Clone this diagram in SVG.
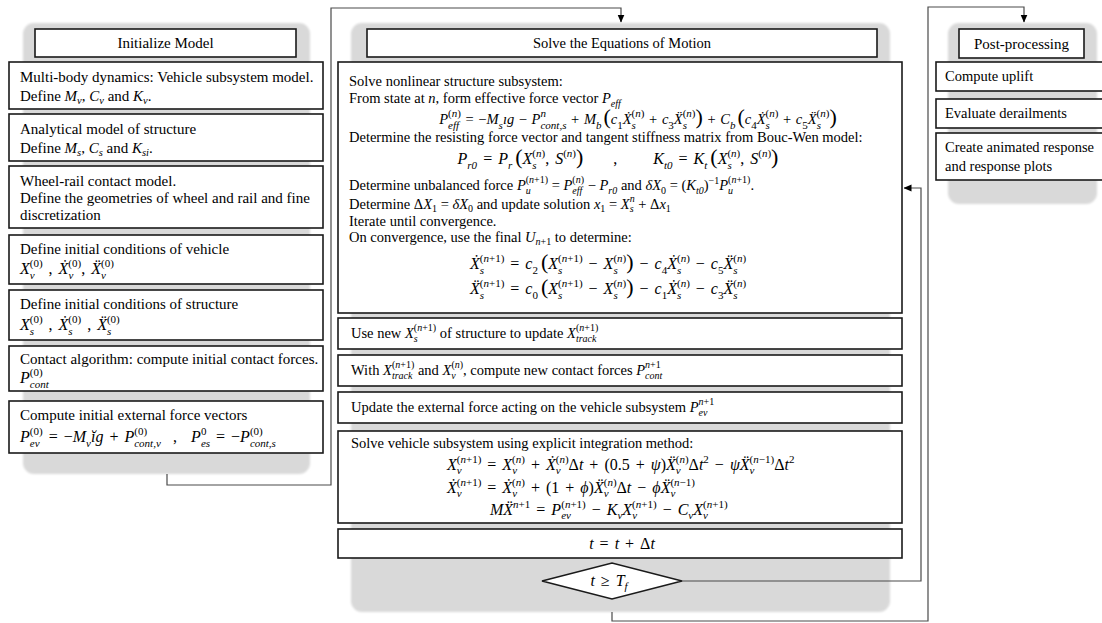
<svg xmlns="http://www.w3.org/2000/svg" width="1102" height="623" viewBox="0 0 1102 623">
<style>
.t{font-family:"Liberation Serif","Times New Roman",serif;font-size:14.5px;fill:#000}
.L{font-size:15px}
.R{font-size:14.5px}
.i{font-style:italic}
.sm{font-size:10px}
.L .sm{font-size:10.5px}
.eq{font-size:16px;word-spacing:2px}
.eq .sm{font-size:11px}
.bp{font-size:22px}
.box{fill:#fff;stroke:#1a1a1a;stroke-width:1.6}
.panel{fill:#d9d9d9}
.conn{fill:none;stroke:#4a4a4a;stroke-width:1.2}
</style>
<defs>
<filter id="soft" x="-5%" y="-5%" width="110%" height="110%"><feGaussianBlur stdDeviation="1.2"/></filter>
<marker id="ah" markerWidth="8" markerHeight="8" refX="7.5" refY="4" orient="auto" markerUnits="userSpaceOnUse"><path d="M0,0.5 L8,4 L0,7.5 z" fill="#000"/></marker>
</defs>

<g id="panels">
<rect class="panel" x="23" y="23" width="287" height="451" rx="11" filter="url(#soft)"/>
<rect class="panel" x="351" y="23" width="539" height="589" rx="11" filter="url(#soft)"/>
<rect class="panel" x="948" y="23" width="149" height="181" rx="11" filter="url(#soft)"/>
</g>

<g id="connectors">
<path class="conn" d="M167,474 V485 H331 V8 H621 V22" marker-end="url(#ah)"/>
<path class="conn" d="M682,581 H921 V188 H904" marker-end="url(#ah)"/>
<path class="conn" d="M612,612 V621 H928 V7 H1024 V22" marker-end="url(#ah)"/>
</g>

<!-- Left column -->
<g id="init-title">
<rect class="box" x="35" y="29" width="261" height="28"/>
<text class="t L" x="165.5" y="48" text-anchor="middle">Initialize Model</text>
</g>
<g id="init-mbd">
<rect class="box" x="9" y="62" width="314" height="47"/>
<text class="t L" x="20" y="82">Multi-body dynamics:  Vehicle subsystem model.</text>
<text class="t L" x="20" y="101">Define <tspan class="i">M</tspan><tspan class="sm i" dy="3">v</tspan><tspan dy="-3">, </tspan><tspan class="i">C</tspan><tspan class="sm i" dy="3">v</tspan><tspan dy="-3"> and </tspan><tspan class="i">K</tspan><tspan class="sm i" dy="3">v</tspan><tspan dy="-3">.</tspan></text>
</g>
<g id="init-struct">
<rect class="box" x="9" y="114" width="314" height="47"/>
<text class="t L" x="20" y="134">Analytical  model of structure</text>
<text class="t L" x="20" y="153">Define <tspan class="i">M</tspan><tspan class="sm i" dy="3">s</tspan><tspan dy="-3">, </tspan><tspan class="i">C</tspan><tspan class="sm i" dy="3">s</tspan><tspan dy="-3"> and </tspan><tspan class="i">K</tspan><tspan class="sm i" dy="3">si</tspan><tspan dy="-3">.</tspan></text>
</g>
<g id="init-contact-model">
<rect class="box" x="9" y="166" width="314" height="62"/>
<text class="t L" x="20" y="186">Wheel-rail contact model.</text>
<text class="t L" x="20" y="203">Define the geometries of wheel and rail and fine</text>
<text class="t L" x="20" y="220">discretization</text>
</g>
<g id="init-vehicle">
<rect class="box" x="9" y="235" width="314" height="49"/>
<text class="t L" x="20" y="254">Define initial conditions of vehicle</text>
<text class="t eq" x="20" y="274"><tspan class="i">X</tspan><tspan class="sm i" dy="4.5">v</tspan><tspan class="sm" dx="-4.9" dy="-12">(0)</tspan><tspan dy="7.5"> , </tspan><tspan class="i">Ẋ</tspan><tspan class="sm i" dy="4.5">v</tspan><tspan class="sm" dx="-4.9" dy="-12">(0)</tspan><tspan dy="7.5">,  </tspan><tspan class="i">Ẍ</tspan><tspan class="sm i" dy="4.5">v</tspan><tspan class="sm" dx="-4.9" dy="-12">(0)</tspan></text>
</g>
<g id="init-structure-ic">
<rect class="box" x="9" y="290" width="314" height="50"/>
<text class="t L" x="20" y="309">Define initial conditions of structure</text>
<text class="t eq" x="20" y="330"><tspan class="i">X</tspan><tspan class="sm i" dy="4.5">s</tspan><tspan class="sm" dx="-4.3" dy="-12">(0)</tspan><tspan dy="7.5"> , </tspan><tspan class="i">Ẋ</tspan><tspan class="sm i" dy="4.5">s</tspan><tspan class="sm" dx="-4.3" dy="-12">(0)</tspan><tspan dy="7.5"> , </tspan><tspan class="i">Ẍ</tspan><tspan class="sm i" dy="4.5">s</tspan><tspan class="sm" dx="-4.3" dy="-12">(0)</tspan></text>
</g>
<g id="init-contact-alg">
<rect class="box" x="9" y="346" width="314" height="45"/>
<text class="t L" x="20" y="364">Contact algorithm: compute initial contact forces.</text>
<text class="t eq" x="20" y="383"><tspan class="i">P</tspan><tspan class="sm i" dy="4.5">cont</tspan><tspan class="sm" dx="-18.9" dy="-12">(0)</tspan></text>
</g>
<g id="init-forces">
<rect class="box" x="9" y="401" width="314" height="52"/>
<text class="t L" x="20" y="420">Compute initial external  force vectors</text>
<text class="t eq" x="20" y="442"><tspan class="i">P</tspan><tspan class="sm i" dy="4.5">ev</tspan><tspan class="sm" dx="-9.7" dy="-12">(0)</tspan><tspan dy="7.5"> = −</tspan><tspan class="i">M</tspan><tspan class="sm i" dy="4.5">v</tspan><tspan class="i" dy="-4.5">ĭg</tspan><tspan> + </tspan><tspan class="i">P</tspan><tspan class="sm i" dy="4.5">cont,v</tspan><tspan class="sm" dx="-26.5" dy="-12">(0)</tspan><tspan dy="7.5" dx="26">,</tspan><tspan class="i" dx="14">P</tspan><tspan class="sm i" dy="4.5">es</tspan><tspan class="sm" dx="-9.1" dy="-12">0</tspan><tspan dy="7.5" dx="3.6"> = −</tspan><tspan class="i">P</tspan><tspan class="sm i" dy="4.5">cont,s</tspan><tspan class="sm" dx="-26" dy="-12">(0)</tspan></text>
</g>

<!-- Middle column -->
<g id="solve-title">
<rect class="box" x="367" y="29" width="510" height="28"/>
<text class="t" x="622" y="48" text-anchor="middle">Solve the Equations of Motion</text>
</g>
<g id="solve-structure">
<rect class="box" x="338" y="62" width="564" height="251"/>
<text class="t" x="349" y="86">Solve nonlinear structure subsystem:</text>
<text class="t" x="349" y="103">From state at <tspan class="i">n</tspan>, form effective  force vector <tspan class="i">P</tspan><tspan class="sm i" dy="4">eff</tspan></text>
<text class="t eq" x="638" y="124" text-anchor="middle" style="font-size:14.5px;word-spacing:1px"><tspan class="i">P</tspan><tspan class="sm i" dy="4.5">eff</tspan><tspan class="sm" dx="-11" dy="-12">(<tspan class="i">n</tspan>)</tspan><tspan dy="7.5"> = −</tspan><tspan class="i">M</tspan><tspan class="sm i" dy="4.5">s</tspan><tspan class="i" dy="-4.5">ıg</tspan><tspan> − </tspan><tspan class="i">P</tspan><tspan class="sm i" dy="4.5">cont,s</tspan><tspan class="sm i" dx="-26" dy="-12">n</tspan><tspan dy="7.5" dx="20.5"> + </tspan><tspan class="i">M</tspan><tspan class="sm i" dy="4.5">b</tspan><tspan class="bp" dy="-4.5" dx="2">(</tspan><tspan class="i">c</tspan><tspan class="sm" dy="4.5">1</tspan><tspan class="i" dy="-4.5">Ẋ</tspan><tspan class="sm i" dy="4.5">s</tspan><tspan class="sm" dx="-4.3" dy="-12">(<tspan class="i">n</tspan>)</tspan><tspan dy="7.5"> + </tspan><tspan class="i">c</tspan><tspan class="sm" dy="4.5">3</tspan><tspan class="i" dy="-4.5">Ẍ</tspan><tspan class="sm i" dy="4.5">s</tspan><tspan class="sm" dx="-4.3" dy="-12">(<tspan class="i">n</tspan>)</tspan><tspan class="bp" dy="7.5">)</tspan><tspan> + </tspan><tspan class="i">C</tspan><tspan class="sm i" dy="4.5">b</tspan><tspan class="bp" dy="-4.5" dx="2">(</tspan><tspan class="i">c</tspan><tspan class="sm" dy="4.5">4</tspan><tspan class="i" dy="-4.5">Ẋ</tspan><tspan class="sm i" dy="4.5">s</tspan><tspan class="sm" dx="-4.3" dy="-12">(<tspan class="i">n</tspan>)</tspan><tspan dy="7.5"> + </tspan><tspan class="i">c</tspan><tspan class="sm" dy="4.5">5</tspan><tspan class="i" dy="-4.5">Ẍ</tspan><tspan class="sm i" dy="4.5">s</tspan><tspan class="sm" dx="-4.3" dy="-12">(<tspan class="i">n</tspan>)</tspan><tspan class="bp" dy="7.5">)</tspan></text>
<text class="t" x="349" y="142">Determine the resisting force vector and tangent stiffness matrix from Bouc-Wen model:</text>
<text class="t eq" x="618" y="164" text-anchor="middle"><tspan class="i">P</tspan><tspan class="sm i" dy="4.5">r0</tspan><tspan dy="-4.5"> = </tspan><tspan class="i">P</tspan><tspan class="sm i" dy="4.5">r</tspan><tspan class="bp" dy="-4.5" dx="3">(</tspan><tspan class="i">X</tspan><tspan class="sm i" dy="4.5">s</tspan><tspan class="sm" dx="-4.3" dy="-12">(<tspan class="i">n</tspan>)</tspan><tspan dy="7.5">, </tspan><tspan class="i">S</tspan><tspan class="sm" dy="-7">(<tspan class="i">n</tspan>)</tspan><tspan class="bp" dy="7">)</tspan><tspan dx="30">,</tspan><tspan class="i" dx="36">K</tspan><tspan class="sm i" dy="4.5">t0</tspan><tspan dy="-4.5"> = </tspan><tspan class="i">K</tspan><tspan class="sm i" dy="4.5">t</tspan><tspan class="bp" dy="-4.5" dx="3">(</tspan><tspan class="i">X</tspan><tspan class="sm i" dy="4.5">s</tspan><tspan class="sm" dx="-4.3" dy="-12">(<tspan class="i">n</tspan>)</tspan><tspan dy="7.5">, </tspan><tspan class="i">S</tspan><tspan class="sm" dy="-7">(<tspan class="i">n</tspan>)</tspan><tspan class="bp" dy="7">)</tspan></text>
<text class="t" x="349" y="190">Determine unbalanced  force <tspan class="i">P</tspan><tspan class="sm i" dy="4">u</tspan><tspan class="sm" dx="-5" dy="-11">(<tspan class="i">n</tspan>+1)</tspan><tspan dy="7"> = </tspan><tspan class="i">P</tspan><tspan class="sm i" dy="4">eff</tspan><tspan class="sm" dx="-10" dy="-11">(<tspan class="i">n</tspan>)</tspan><tspan dy="7"> − </tspan><tspan class="i">P</tspan><tspan class="sm i" dy="4">r0</tspan><tspan dy="-4"> and </tspan><tspan class="i">δX</tspan><tspan class="sm" dy="4">0</tspan><tspan dy="-4"> = (</tspan><tspan class="i">K</tspan><tspan class="sm i" dy="4">t0</tspan><tspan dy="-4">)</tspan><tspan class="sm" dy="-6">−1</tspan><tspan class="i" dy="6">P</tspan><tspan class="sm i" dy="4">u</tspan><tspan class="sm" dx="-5" dy="-11">(<tspan class="i">n</tspan>+1)</tspan><tspan dy="7">.</tspan></text>
<text class="t" x="349" y="209">Determine Δ<tspan class="i">X</tspan><tspan class="sm" dy="3">1</tspan><tspan dy="-3"> = </tspan><tspan class="i">δX</tspan><tspan class="sm" dy="3">0</tspan><tspan dy="-3"> and update solution </tspan><tspan class="i">x</tspan><tspan class="sm" dy="3">1</tspan><tspan dy="-3"> = </tspan><tspan class="i">X</tspan><tspan class="sm i" dy="3">s</tspan><tspan class="sm i" dx="-3.9" dy="-10">n</tspan><tspan dy="7"> + Δ</tspan><tspan class="i">x</tspan><tspan class="sm" dy="3">1</tspan></text>
<text class="t" x="349" y="226">Iterate until convergence.</text>
<text class="t" x="349" y="242">On convergence, use the final <tspan class="i">U</tspan><tspan class="sm i" dy="3">n</tspan><tspan class="sm">+1</tspan><tspan dy="-3"> to determine:</tspan></text>
<text class="t eq" x="470" y="269"><tspan class="i">Ẋ</tspan><tspan class="sm i" dy="4.5">s</tspan><tspan class="sm" dx="-4.3" dy="-12">(<tspan class="i">n</tspan>+1)</tspan><tspan dy="7.5"> = </tspan><tspan class="i">c</tspan><tspan class="sm" dy="4.5">2</tspan><tspan class="bp" dy="-4.5" dx="3">(</tspan><tspan class="i">X</tspan><tspan class="sm i" dy="4.5">s</tspan><tspan class="sm" dx="-4.3" dy="-12">(<tspan class="i">n</tspan>+1)</tspan><tspan dy="7.5"> − </tspan><tspan class="i">X</tspan><tspan class="sm i" dy="4.5">s</tspan><tspan class="sm" dx="-4.3" dy="-12">(<tspan class="i">n</tspan>)</tspan><tspan class="bp" dy="7.5">)</tspan><tspan> − </tspan><tspan class="i">c</tspan><tspan class="sm" dy="4.5">4</tspan><tspan class="i" dy="-4.5">Ẋ</tspan><tspan class="sm i" dy="4.5">s</tspan><tspan class="sm" dx="-4.3" dy="-12">(<tspan class="i">n</tspan>)</tspan><tspan dy="7.5"> − </tspan><tspan class="i">c</tspan><tspan class="sm" dy="4.5">5</tspan><tspan class="i" dy="-4.5">Ẍ</tspan><tspan class="sm i" dy="4.5">s</tspan><tspan class="sm" dx="-4.3" dy="-12">(<tspan class="i">n</tspan>)</tspan></text>
<text class="t eq" x="470" y="294"><tspan class="i">Ẍ</tspan><tspan class="sm i" dy="4.5">s</tspan><tspan class="sm" dx="-4.3" dy="-12">(<tspan class="i">n</tspan>+1)</tspan><tspan dy="7.5"> = </tspan><tspan class="i">c</tspan><tspan class="sm" dy="4.5">0</tspan><tspan class="bp" dy="-4.5" dx="3">(</tspan><tspan class="i">X</tspan><tspan class="sm i" dy="4.5">s</tspan><tspan class="sm" dx="-4.3" dy="-12">(<tspan class="i">n</tspan>+1)</tspan><tspan dy="7.5"> − </tspan><tspan class="i">X</tspan><tspan class="sm i" dy="4.5">s</tspan><tspan class="sm" dx="-4.3" dy="-12">(<tspan class="i">n</tspan>)</tspan><tspan class="bp" dy="7.5">)</tspan><tspan> − </tspan><tspan class="i">c</tspan><tspan class="sm" dy="4.5">1</tspan><tspan class="i" dy="-4.5">Ẋ</tspan><tspan class="sm i" dy="4.5">s</tspan><tspan class="sm" dx="-4.3" dy="-12">(<tspan class="i">n</tspan>)</tspan><tspan dy="7.5"> − </tspan><tspan class="i">c</tspan><tspan class="sm" dy="4.5">3</tspan><tspan class="i" dy="-4.5">Ẍ</tspan><tspan class="sm i" dy="4.5">s</tspan><tspan class="sm" dx="-4.3" dy="-12">(<tspan class="i">n</tspan>)</tspan></text>
</g>
<g id="update-track">
<rect class="box" x="338" y="318" width="564" height="31"/>
<text class="t" x="351" y="338">Use new <tspan class="i">X</tspan><tspan class="sm i" dy="4">s</tspan><tspan class="sm" dx="-3.9" dy="-11">(<tspan class="i">n</tspan>+1)</tspan><tspan dy="7"> of structure to update </tspan><tspan class="i">X</tspan><tspan class="sm i" dy="4">track</tspan><tspan class="sm" dx="-20.5" dy="-11">(<tspan class="i">n</tspan>+1)</tspan></text>
</g>
<g id="contact-forces">
<rect class="box" x="338" y="355" width="564" height="31"/>
<text class="t" x="351" y="375">With <tspan class="i">X</tspan><tspan class="sm i" dy="4">track</tspan><tspan class="sm" dx="-20.5" dy="-11">(<tspan class="i">n</tspan>+1)</tspan><tspan dy="7"> and </tspan><tspan class="i">X</tspan><tspan class="sm i" dy="4">v</tspan><tspan class="sm" dx="-4.4" dy="-11">(<tspan class="i">n</tspan>)</tspan><tspan dy="7">, compute new contact  forces </tspan><tspan class="i">P</tspan><tspan class="sm i" dy="4">cont</tspan><tspan class="sm i" dx="-17.2" dy="-11">n</tspan><tspan class="sm">+1</tspan></text>
</g>
<g id="external-force">
<rect class="box" x="338" y="392" width="564" height="31"/>
<text class="t" x="351" y="412">Update the external  force acting on the vehicle subsystem  <tspan class="i">P</tspan><tspan class="sm i" dy="4">ev</tspan><tspan class="sm i" dx="-8.8" dy="-11">n</tspan><tspan class="sm">+1</tspan></text>
</g>
<g id="solve-vehicle">
<rect class="box" x="338" y="431" width="564" height="92"/>
<text class="t" x="351" y="448">Solve vehicle subsystem using explicit integration method:</text>
<text class="t eq" x="447" y="470"><tspan class="i">X</tspan><tspan class="sm i" dy="4">v</tspan><tspan class="sm" dx="-4.9" dy="-11.5">(<tspan class="i">n</tspan>+1)</tspan><tspan dy="7.5"> = </tspan><tspan class="i">X</tspan><tspan class="sm i" dy="4">v</tspan><tspan class="sm" dx="-4.9" dy="-11.5">(<tspan class="i">n</tspan>)</tspan><tspan dy="7.5"> + </tspan><tspan class="i">Ẋ</tspan><tspan class="sm i" dy="4">v</tspan><tspan class="sm" dx="-4.9" dy="-11.5">(<tspan class="i">n</tspan>)</tspan><tspan dy="7.5">Δ</tspan><tspan class="i">t</tspan><tspan> + (0.5 + </tspan><tspan class="i">ψ</tspan><tspan>)</tspan><tspan class="i">Ẍ</tspan><tspan class="sm i" dy="4">v</tspan><tspan class="sm" dx="-4.9" dy="-11.5">(<tspan class="i">n</tspan>)</tspan><tspan dy="7.5">Δ</tspan><tspan class="i">t</tspan><tspan class="sm" dy="-7">2</tspan><tspan dy="7"> − </tspan><tspan class="i">ψẌ</tspan><tspan class="sm i" dy="4">v</tspan><tspan class="sm" dx="-4.9" dy="-11.5">(<tspan class="i">n</tspan>−1)</tspan><tspan dy="7.5">Δ</tspan><tspan class="i">t</tspan><tspan class="sm" dy="-7">2</tspan></text>
<text class="t eq" x="447" y="493"><tspan class="i">Ẋ</tspan><tspan class="sm i" dy="4">v</tspan><tspan class="sm" dx="-4.9" dy="-11.5">(<tspan class="i">n</tspan>+1)</tspan><tspan dy="7.5"> = </tspan><tspan class="i">Ẋ</tspan><tspan class="sm i" dy="4">v</tspan><tspan class="sm" dx="-4.9" dy="-11.5">(<tspan class="i">n</tspan>)</tspan><tspan dy="7.5"> + (1 + </tspan><tspan class="i">ϕ</tspan><tspan>)</tspan><tspan class="i">Ẍ</tspan><tspan class="sm i" dy="4">v</tspan><tspan class="sm" dx="-4.9" dy="-11.5">(<tspan class="i">n</tspan>)</tspan><tspan dy="7.5">Δ</tspan><tspan class="i">t</tspan><tspan> − </tspan><tspan class="i">ϕẌ</tspan><tspan class="sm i" dy="4">v</tspan><tspan class="sm" dx="-4.9" dy="-11.5">(<tspan class="i">n</tspan>−1)</tspan></text>
<text class="t eq" x="490" y="515"><tspan class="i">MẌ</tspan><tspan class="sm i" dy="-7">n</tspan><tspan class="sm">+1</tspan><tspan dy="7"> = </tspan><tspan class="i">P</tspan><tspan class="sm i" dy="4">ev</tspan><tspan class="sm" dx="-9.7" dy="-11.5">(<tspan class="i">n</tspan>+1)</tspan><tspan dy="7.5"> − </tspan><tspan class="i">K</tspan><tspan class="sm i" dy="4">v</tspan><tspan class="i" dy="-4">X</tspan><tspan class="sm i" dy="4">v</tspan><tspan class="sm" dx="-4.9" dy="-11.5">(<tspan class="i">n</tspan>+1)</tspan><tspan dy="7.5"> − </tspan><tspan class="i">C</tspan><tspan class="sm i" dy="4">v</tspan><tspan class="i" dy="-4">X</tspan><tspan class="sm i" dy="4">v</tspan><tspan class="sm" dx="-4.9" dy="-11.5">(<tspan class="i">n</tspan>+1)</tspan></text>
</g>
<g id="time-step">
<rect class="box" x="338" y="529" width="564" height="29"/>
<text class="t eq" x="622" y="549" text-anchor="middle"><tspan class="i">t</tspan> = <tspan class="i">t</tspan> + Δ<tspan class="i">t</tspan></text>
</g>
<g id="end-check">
<polygon points="542,581 612,563 682,581 612,599" fill="#fff" stroke="#1a1a1a" stroke-width="1.6"/>
<text class="t eq" x="609" y="586" text-anchor="middle"><tspan class="i">t</tspan> ≥ <tspan class="i">T</tspan><tspan class="sm i" dy="4">f</tspan></text>
</g>

<!-- Right column -->
<g id="post-title">
<rect class="box" x="959" y="29" width="125" height="29"/>
<text class="t" x="1021.5" y="49" text-anchor="middle" style="font-size:15px">Post-processing</text>
</g>
<g id="post-uplift">
<rect class="box" x="936" y="62" width="180" height="29"/>
<text class="t R" x="945" y="81">Compute uplift</text>
</g>
<g id="post-derail">
<rect class="box" x="936" y="99" width="180" height="29"/>
<text class="t R" x="945" y="118">Evaluate derailments</text>
</g>
<g id="post-plots">
<rect class="box" x="936" y="133" width="180" height="47"/>
<text class="t R" x="945" y="152">Create animated response</text>
<text class="t R" x="945" y="171">and response plots</text>
</g>
</svg>
